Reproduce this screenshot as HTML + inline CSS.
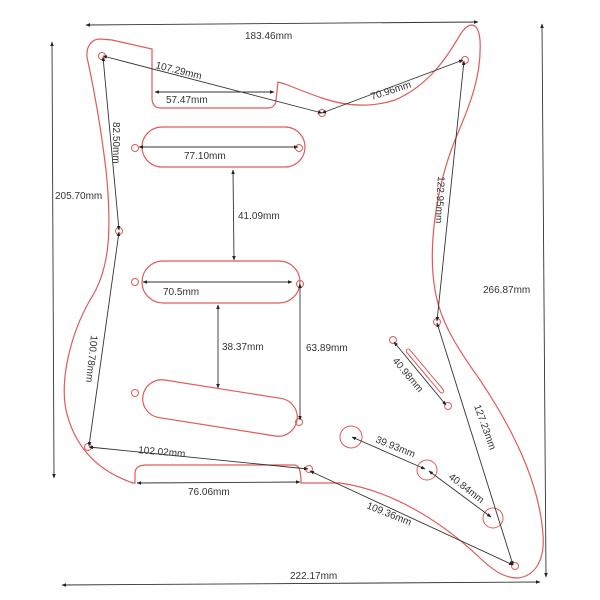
<!DOCTYPE html>
<html><head><style>html,body{margin:0;padding:0;background:#fff}svg{display:block}text{font-family:"Liberation Sans",sans-serif;font-size:10px;fill:#333}</style></head><body>
<svg width="600" height="600" viewBox="0 0 600 600" xmlns="http://www.w3.org/2000/svg">
<defs><marker id="a" viewBox="0 0 10 10" refX="9" refY="5" markerWidth="5" markerHeight="5" orient="auto-start-reverse"><path d="M0,1L10,5L0,9z" fill="#222"/></marker></defs>
<g fill="none" stroke="#e05a5a" stroke-width="1.2">
<path d="M100,39 C92,39 86,46 87,57 C92,80 100,120 106,170 C112,230 110,270 90,300 C70,335 60,380 66,410 C74,445 95,470 133,483 L135,483 L135,472 C136,467 140,465 146,465 L294,465 C299,465 301,470 301,483 L340,483 C390,490 440,520 480,558 C495,572 505,578 518,578 C535,576 545,560 543,535 C540,490 520,440 480,380 C455,345 440,320 435,290 C428,250 435,190 455,140 C470,105 482,75 480,40 C478,20 468,22 460,35 C448,55 430,85 395,100 C370,108 345,106 322,98 C310,94 300,90 285,84 L278,82 L276,100 C276,104 273,108 268,108 L160,108 C155,108 152,104 152,98 L152,49 L112,40 Z"/>
<rect x="142" y="127" width="163" height="40" rx="20"/>
<rect x="142" y="261" width="158" height="42" rx="21"/>
<rect x="142" y="389" width="156" height="38" rx="19" transform="rotate(9 220 408)"/>
<g stroke-width="1">
<circle cx="102" cy="56" r="3.5"/><circle cx="322" cy="113" r="3.5"/><circle cx="465" cy="60" r="3.5"/><circle cx="119" cy="231" r="3.5"/>
<circle cx="135" cy="148" r="3.5"/><circle cx="299" cy="148" r="3.5"/><circle cx="135" cy="282" r="3.5"/><circle cx="300" cy="284" r="3.5"/>
<circle cx="135" cy="393" r="3.5"/><circle cx="299" cy="422" r="3.5"/><circle cx="437" cy="322" r="3.5"/><circle cx="393" cy="340" r="3.5"/>
<circle cx="448" cy="406" r="3.5"/><circle cx="88" cy="447" r="3.5"/><circle cx="309" cy="469" r="3.5"/><circle cx="515" cy="566" r="3.5"/>
<circle cx="351" cy="437" r="11"/><circle cx="427" cy="470" r="10"/><circle cx="493" cy="518" r="10"/>
<rect x="397" y="369" width="56" height="4" rx="2" transform="rotate(50 425 371)"/>
</g></g>
<g stroke="#333" stroke-width="0.9" fill="none" marker-start="url(#a)" marker-end="url(#a)">
<line x1="86" y1="25" x2="478" y2="22"/>
<line x1="52" y1="42" x2="54" y2="478"/>
<line x1="542" y1="24" x2="546" y2="577"/>
<line x1="62" y1="585" x2="540" y2="582"/>
<line x1="103" y1="56" x2="322" y2="113"/>
<line x1="322" y1="113" x2="463" y2="60"/>
<line x1="155" y1="92" x2="274" y2="92"/>
<line x1="103" y1="57" x2="119" y2="230"/>
<line x1="139" y1="147" x2="298" y2="147"/>
<line x1="233" y1="170" x2="234" y2="260"/>
<line x1="143" y1="282" x2="292" y2="282"/>
<line x1="218" y1="305" x2="218" y2="388"/>
<line x1="300" y1="284" x2="300" y2="420"/>
<line x1="464" y1="61" x2="437" y2="321"/>
<line x1="119" y1="232" x2="89" y2="446"/>
<line x1="89" y1="447" x2="308" y2="469"/>
<line x1="137" y1="483" x2="300" y2="482"/>
<line x1="310" y1="471" x2="513" y2="565"/>
<line x1="437" y1="323" x2="513" y2="565"/>
<line x1="394" y1="342" x2="446" y2="405"/>
<line x1="352" y1="437" x2="425" y2="469"/>
<line x1="429" y1="471" x2="491" y2="517"/>
</g>
<text x="245" y="39">183.46mm</text>
<text x="55" y="199">205.70mm</text>
<text x="483" y="293">266.87mm</text>
<text x="290" y="579">222.17mm</text>
<text x="155" y="68" transform="rotate(14 155 68)">107.29mm</text>
<text x="372" y="100" transform="rotate(-18 372 100)">70.96mm</text>
<text x="166" y="103">57.47mm</text>
<text x="113" y="122" transform="rotate(90 113 122)">82.50mm</text>
<text x="184" y="159">77.10mm</text>
<text x="238" y="219">41.09mm</text>
<text x="163" y="295">70.5mm</text>
<text x="222" y="350">38.37mm</text>
<text x="306" y="351">63.89mm</text>
<text x="438" y="176" transform="rotate(93 438 176)">122.95mm</text>
<text x="91" y="335" transform="rotate(96 91 335)">100.78mm</text>
<text x="138" y="453" transform="rotate(5 138 453)">102.02mm</text>
<text x="188" y="495">76.06mm</text>
<text x="366" y="508" transform="rotate(22 366 508)">109.36mm</text>
<text x="474" y="406" transform="rotate(70 474 406)">127.23mm</text>
<text x="392" y="361" transform="rotate(50 392 361)">40.98mm</text>
<text x="375" y="442" transform="rotate(22 375 442)">39.93mm</text>
<text x="448" y="478" transform="rotate(38 448 478)">40.84mm</text>
</svg>
</body></html>
